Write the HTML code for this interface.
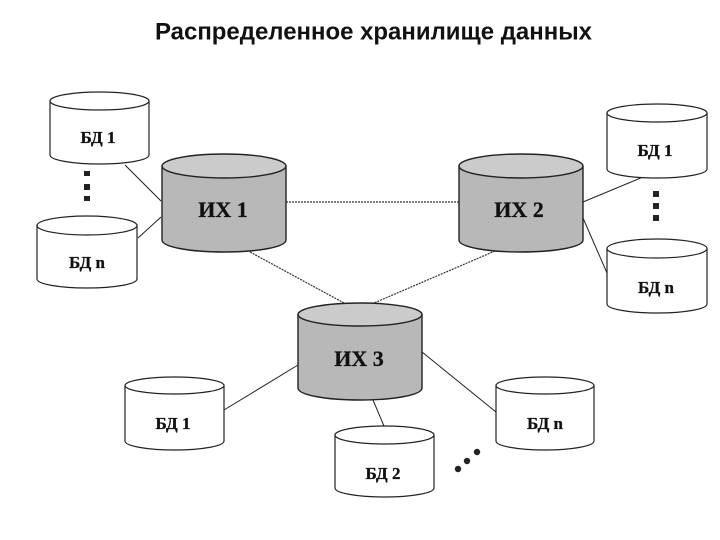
<!DOCTYPE html>
<html><head><meta charset="utf-8">
<style>
html,body{margin:0;padding:0;background:#fff;width:720px;height:540px;overflow:hidden}
svg{display:block}
.t{font-family:"Liberation Sans",sans-serif;font-weight:bold;font-size:23.800px;fill:#111}
.l{font-family:"Liberation Serif","DejaVu Serif",serif;font-weight:bold;fill:#111;text-anchor:middle;stroke:#111;stroke-width:.3}
.s{font-size:17px}
.b{font-size:22px}
.c{stroke:#222;stroke-width:1;fill:none}
.d{stroke:#333;stroke-width:1.2;stroke-dasharray:2 1;fill:none}
.w{fill:#fff;stroke:#222;stroke-width:1.2}
.wt{fill:#fff;stroke:#222;stroke-width:1.2}
.g{fill:#b8b8b8;stroke:#222;stroke-width:1.4}
.gt{fill:#cbcbcb;stroke:#222;stroke-width:1.4}
.dot{fill:#222}
</style></head><body>
<svg width="720" height="540" viewBox="0 0 720 540" xmlns="http://www.w3.org/2000/svg">
<text class="t" x="155" y="39.500" textLength="437" lengthAdjust="spacingAndGlyphs">Распределенное хранилище данных</text>

<g>
<path class="c" d="M125 165L161 201"/>
<path class="c" d="M138 238L161 217"/>
<path class="d" d="M286 202H459"/>
<path class="d" d="M250 252L344 303"/>
<path class="d" d="M495 251L374 303"/>
<path class="c" d="M583 202L643 177"/>
<path class="c" d="M583 218L607 273"/>
<path class="c" d="M298 365L224 410"/>
<path class="c" d="M422 352L496 412"/>
<path class="c" d="M373 400L384 426"/>
</g>

<!-- left small -->
<path class="w" d="M50 101V155C50 160 72 164 99.500 164C127 164 149 160 149 155V101Z"/>
<ellipse class="wt" cx="99.500" cy="101" rx="49.500" ry="9"/>
<text class="l s" x="98" y="143">БД 1</text>
<path class="w" d="M37 225V279C37 284 59 288 87 288C115 288 137 284 137 279V225Z"/>
<ellipse class="wt" cx="87" cy="225.500" rx="50" ry="9.500"/>
<text class="l s" x="87" y="268">БД n</text>

<!-- right small -->
<path class="w" d="M607 113V169C607 174 629 178 657 178C685 178 707 174 707 169V113Z"/>
<ellipse class="wt" cx="657" cy="113" rx="50" ry="9"/>
<text class="l s" x="655" y="156">БД 1</text>
<path class="w" d="M607 248.500V304C607 309 629 313 657 313C685 313 707 309 707 304V248.500Z"/>
<ellipse class="wt" cx="657" cy="248.500" rx="50" ry="9.500"/>
<text class="l s" x="656" y="293">БД n</text>

<!-- bottom small -->
<path class="w" d="M125 385.500V441C125 446 147 450 174.500 450C202 450 224 446 224 441V385.500Z"/>
<ellipse class="wt" cx="174.500" cy="385.500" rx="49.500" ry="8.500"/>
<text class="l s" x="173" y="429">БД 1</text>
<path class="w" d="M335 435V488C335 493 357 497 384.500 497C412 497 434 493 434 488V435Z"/>
<ellipse class="wt" cx="384.500" cy="435" rx="49.500" ry="9"/>
<text class="l s" x="383" y="479">БД 2</text>
<path class="w" d="M496 385.500V441C496 446 518 450 545 450C572 450 594 446 594 441V385.500Z"/>
<ellipse class="wt" cx="545" cy="385.500" rx="49" ry="8.500"/>
<text class="l s" x="545" y="429">БД n</text>

<!-- central gray -->
<path class="g" d="M162 166V240C162 247 190 252 224 252C258 252 286 247 286 240V166Z"/>
<ellipse class="gt" cx="224" cy="166" rx="62" ry="12"/>
<text class="l b" x="223" y="217">ИХ 1</text>
<path class="g" d="M459 166V240C459 247 487 252 521 252C555 252 583 247 583 240V166Z"/>
<ellipse class="gt" cx="521" cy="166" rx="62" ry="12"/>
<text class="l b" x="519" y="217">ИХ 2</text>
<path class="g" d="M298 314.500V388C298 395 326 400 360 400C394 400 422 395 422 388V314.500Z"/>
<ellipse class="gt" cx="360" cy="314.500" rx="62" ry="11.500"/>
<text class="l b" x="359" y="366">ИХ 3</text>

<!-- dots -->
<rect class="dot" x="84" y="171" width="6" height="5"/>
<rect class="dot" x="84" y="184" width="6" height="6"/>
<rect class="dot" x="84" y="196" width="6" height="5"/>
<rect class="dot" x="653" y="191" width="6" height="6"/>
<rect class="dot" x="653" y="203" width="6" height="6"/>
<rect class="dot" x="653" y="215" width="6" height="6"/>
<circle class="dot" cx="458" cy="469" r="3.200"/>
<circle class="dot" cx="467" cy="461" r="3.200"/>
<circle class="dot" cx="477" cy="452" r="3.200"/>
</svg>
</body></html>
